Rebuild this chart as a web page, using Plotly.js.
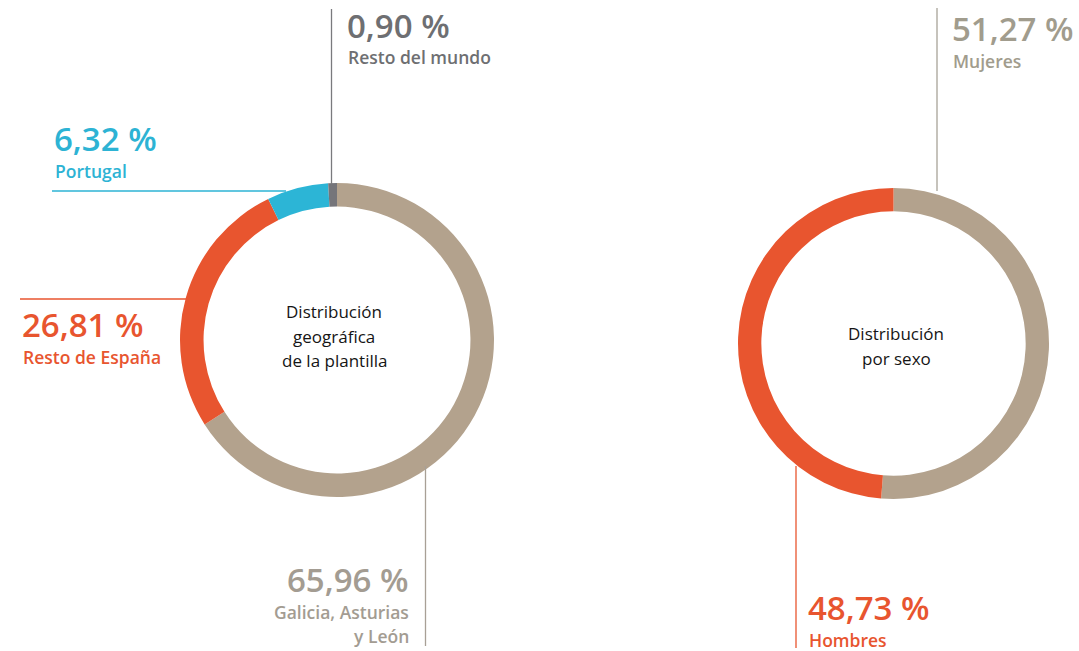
<!DOCTYPE html>
<html>
<head>
<meta charset="utf-8">
<script src="https://cdn.plot.ly/plotly-3.0.1.min.js"></script>
<style>html,body{margin:0;padding:0;background:#fff;}#chart{width:1079px;height:651px;}</style>
</head>
<body>
<div id="chart"></div>
<script>
// Data
var geoCategories = ["Galicia, Asturias y León", "Resto de España", "Portugal", "Resto del mundo"];
var geoValues = [65.96, 26.81, 6.32, 0.90];
var geoLabels = ["65,96 %", "26,81 %", "6,32 %", "0,90 %"];
var sexCategories = ["Mujeres", "Hombres"];
var sexValues = [51.27, 48.73];
var sexLabels = ["51,27 %", "48,73 %"];

var W = 1079, H = 651;
function px(x){ return x / W; }
function py(y){ return 1 - y / H; }

var TAN = "#b3a28d", RED = "#e8552f", BLUE = "#2cb5d6", GRAY = "#75757a";
var geoColors = [TAN, RED, BLUE, GRAY];
var sexColors = [TAN, RED];
var FONT = "Open Sans";
var ASC = 1.07;

var traces = [
  {
    type: "pie", labels: geoCategories, values: geoValues, hole: 0.85,
    sort: false, direction: "clockwise", rotation: 0,
    marker: {colors: geoColors, line: {width: 0}},
    textinfo: "none", hoverinfo: "label+value", showlegend: false,
    domain: {x: [px(180), px(494)], y: [py(497), py(183)]}
  },
  {
    type: "pie", labels: sexCategories, values: sexValues, hole: 0.85,
    sort: false, direction: "clockwise", rotation: 0,
    marker: {colors: sexColors, line: {width: 0}},
    textinfo: "none", hoverinfo: "label+value", showlegend: false,
    domain: {x: [px(737), px(1050)], y: [py(499), py(188)]}
  }
];

// text placed by its baseline
function txt(text, x, baseline, color, size, weight, xanchor){
  return {text: text, x: px(x), y: py(baseline - ASC * size), xref: "paper", yref: "paper",
    xanchor: xanchor || "left", yanchor: "top", showarrow: false, borderpad: 0,
    align: xanchor === "right" ? "right" : (xanchor === "center" ? "center" : "left"),
    font: {family: FONT, size: size, color: color, weight: weight}};
}

var NUM = 33, LAB = 17.5, CEN = 17;
var C_GRAY = "#6e6f72", C_BLUE = "#2db3d4", C_RED = "#e8552f", C_TAN = "#a39c92", C_MUJ = "#a19c8d", C_CEN = "#151515";

var annotations = [
  txt(geoLabels[3], 346, 37, C_GRAY, NUM, 600),
  txt(geoCategories[3], 347, 63, C_GRAY, LAB, 600),
  txt(geoLabels[2], 53, 150.5, C_BLUE, NUM, 600),
  txt(geoCategories[2], 54, 176.5, C_BLUE, LAB, 600),
  txt(geoLabels[1], 21, 336.5, C_RED, NUM, 600),
  txt(geoCategories[1], 22, 363, C_RED, LAB, 600),
  txt(geoLabels[0], 410, 591.5, C_TAN, NUM, 600, "right"),
  txt("Galicia, Asturias", 410, 618, C_TAN, LAB, 600, "right"),
  txt("y León", 410, 641.5, C_TAN, LAB, 600, "right"),
  txt(sexLabels[0], 951, 40.5, C_MUJ, NUM, 600),
  txt(sexCategories[0], 952, 67, C_MUJ, LAB, 600),
  txt(sexLabels[1], 807, 619, C_RED, NUM, 600),
  txt(sexCategories[1], 808, 646, C_RED, LAB, 600),
  txt("Distribución", 334, 317.5, C_CEN, CEN, 500, "center"),
  txt("geográfica", 334, 342.5, C_CEN, CEN, 500, "center"),
  txt("de la plantilla", 334, 366.5, C_CEN, CEN, 500, "center"),
  txt("Distribución", 896, 339, C_CEN, CEN, 500, "center"),
  txt("por sexo", 896, 364, C_CEN, CEN, 500, "center")
];

function seg(x0, y0, x1, y1, color){
  return {type: "line", xref: "paper", yref: "paper", x0: px(x0), y0: py(y0), x1: px(x1), y1: py(y1),
    line: {color: color, width: 1.3}};
}
var shapes = [
  seg(331.5, 9, 331.5, 184, "#7a7a7d"),
  seg(52, 191, 286, 191, "#2db3d4"),
  seg(20, 299, 186, 299, "#e8552f"),
  seg(425.5, 466, 425.5, 646, "#a8a096"),
  seg(937, 8, 937, 191, "#a8a398"),
  seg(796, 466, 796, 648, "#e8552f")
];

var layout = {
  width: W, height: H,
  margin: {l: 0, r: 0, t: 0, b: 0},
  paper_bgcolor: "#ffffff", plot_bgcolor: "#ffffff",
  showlegend: false,
  annotations: annotations,
  shapes: shapes
};

Plotly.newPlot("chart", traces, layout, {displayModeBar: false, staticPlot: true});
</script>
</body>
</html>
